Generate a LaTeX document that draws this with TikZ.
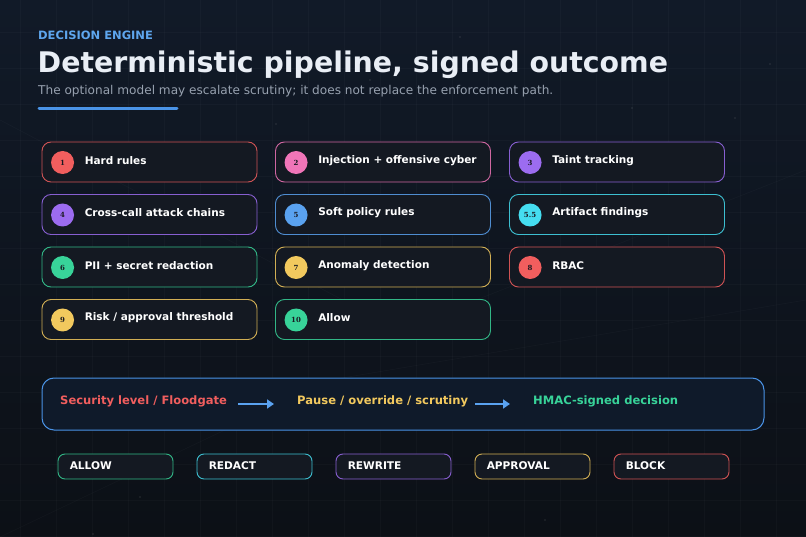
\documentclass[tikz,border=0pt]{standalone}
\usepackage{fontspec}
\setmainfont{DejaVu Sans}
\newfontfamily\badgefont{DejaVu Serif}
\usetikzlibrary{arrows.meta}
\definecolor{bgtop}{HTML}{111A28}
\definecolor{bgbot}{HTML}{0C1016}
\definecolor{cardbg}{HTML}{141922}
\definecolor{pipebg}{HTML}{0F1A2A}
\definecolor{cred}{HTML}{F15E5E}
\definecolor{cpink}{HTML}{F075B8}
\definecolor{cpurple}{HTML}{9C6CF0}
\definecolor{cblue}{HTML}{5AA2F0}
\definecolor{ccyan}{HTML}{45DDF0}
\definecolor{cgreen}{HTML}{38D399}
\definecolor{cyellow}{HTML}{F2C95E}
\definecolor{titlec}{HTML}{E9EEF5}
\definecolor{subc}{HTML}{97A1AF}
\definecolor{kickc}{HTML}{5EA6EE}
\definecolor{barc}{HTML}{4A93E6}
\definecolor{badgetext}{HTML}{1A1A22}
\tikzset{
  card/.style={draw=#1, line width=0.9pt, rounded corners=9pt, fill=cardbg,
    minimum width=215pt, minimum height=40pt, inner sep=0pt, draw opacity=0.85},
  badge/.style={circle, fill=#1, minimum size=23pt, inner sep=0pt, text=badgetext,
    font=\badgefont\bfseries\fontsize{7}{8}\selectfont},
  clabel/.style={anchor=west, inner sep=0pt, text=white,
    font=\bfseries\fontsize{10.5}{12}\selectfont},
  pill/.style={draw=#1, line width=0.9pt, rounded corners=7pt, fill=cardbg,
    minimum width=115pt, minimum height=25pt, inner sep=0pt, draw opacity=0.85},
  pilltext/.style={anchor=west, inner sep=0pt, text=white,
    font=\bfseries\fontsize{10.6}{13}\selectfont},
  pipetext/.style={anchor=west, inner sep=0pt, text=#1,
    font=\bfseries\fontsize{11.55}{14}\selectfont},
  pipearrow/.style={draw=cblue, line width=2.8pt, -{Triangle[length=7pt,width=9pt]}},
}
\begin{document}
\begin{tikzpicture}[x=1pt,y=-1pt]
\useasboundingbox (0,0) rectangle (806,537);
\shade[top color=bgtop, bottom color=bgbot] (0,0) rectangle (806,537);
% faint grid
\foreach \gx in {20,56,...,806} \draw[white, opacity=0.025, line width=0.6pt] (\gx,0) -- (\gx,537);
\foreach \gy in {32,68,...,537} \draw[white, opacity=0.025, line width=0.6pt] (0,\gy) -- (806,\gy);
% faint diagonals
\draw[white, opacity=0.025, line width=0.8pt] (0,120) -- (400,330) -- (806,170);
\draw[white, opacity=0.025, line width=0.8pt] (0,537) -- (330,380) -- (806,300);
% dots
\foreach \dx/\dy in {460/37,914/40,370/80,770/64,276/124,735/118,632/108,545/520,140/497,93/534}
  \fill[white, opacity=0.08] (\dx,\dy) circle (1.2pt);

% header
\node[anchor=base west, inner sep=0pt, text=kickc, font=\bfseries\fontsize{11.5}{13}\selectfont] (kick) at (38,39.5) {DECISION ENGINE};
\node[anchor=base west, inner sep=0pt, text=titlec, font=\bfseries\fontsize{28.4}{32}\selectfont] (title) at (37.5,73) {Deterministic pipeline, signed outcome};
\node[anchor=base west, inner sep=0pt, text=subc, font=\fontsize{12.1}{14}\selectfont] (sub) at (38,95) {The optional model may escalate scrutiny; it does not replace the enforcement path.};
\draw[barc, line width=3pt, line cap=round] (39,108.5) -- (177,108.5);

% cards
\foreach \n/\cx/\cy/\col/\num/\txt in {
  1/149.5/162/cred/1/{Hard rules},
  2/383/162/cpink/2/{Injection + offensive cyber},
  3/617/162/cpurple/3/{Taint tracking},
  4/149.5/214.5/cpurple/4/{Cross-call attack chains},
  5/383/214.5/cblue/5/{Soft policy rules},
  55/617/214.5/ccyan/5.5/{Artifact findings},
  6/149.5/267/cgreen/6/{PII + secret redaction},
  7/383/267/cyellow/7/{Anomaly detection},
  8/617/267/cred/8/{RBAC},
  9/149.5/319.5/cyellow/9/{Risk / approval threshold},
  10/383/319.5/cgreen/10/{Allow}}{
  \node[card=\col] (c\n) at (\cx,\cy) {};
  \node[badge=\col] (b\n) at ([xshift=21pt,yshift=-0.5pt]c\n.west) {\num};
  \node[clabel] (l\n) at ([xshift=43pt,yshift=1.5pt]c\n.west) {\txt};
}

% pipeline
\node[draw=barc, line width=1pt, rounded corners=12pt, fill=pipebg, minimum width=722pt, minimum height=52pt, inner sep=0pt] (pipe) at (403,404) {};
\node[pipetext=cred] (p1) at (60,401.5) {Security level / Floodgate};
\node[pipetext=cyellow] (p2) at (297,401.5) {Pause / override / scrutiny};
\node[pipetext=cgreen] (p3) at (533,401.5) {HMAC-signed decision};
\draw[pipearrow] ([xshift=11pt,yshift=-2.5pt]p1.east) -- ([xshift=-23pt,yshift=-2.5pt]p2.west);
\draw[pipearrow] ([xshift=7pt,yshift=-2.5pt]p2.east) -- ([xshift=-23pt,yshift=-2.5pt]p3.west);

% outcomes
\foreach \n/\cx/\col/\txt in {1/115.5/cgreen/ALLOW, 2/254.5/ccyan/REDACT, 3/393.5/cpurple/REWRITE, 4/532.5/cyellow/APPROVAL, 5/671.5/cred/BLOCK}{
  \node[pill=\col] (o\n) at (\cx,466.5) {};
  \node[pilltext] (ot\n) at ([xshift=12pt,yshift=0.5pt]o\n.west) {\txt};
}
\end{tikzpicture}
\end{document}
